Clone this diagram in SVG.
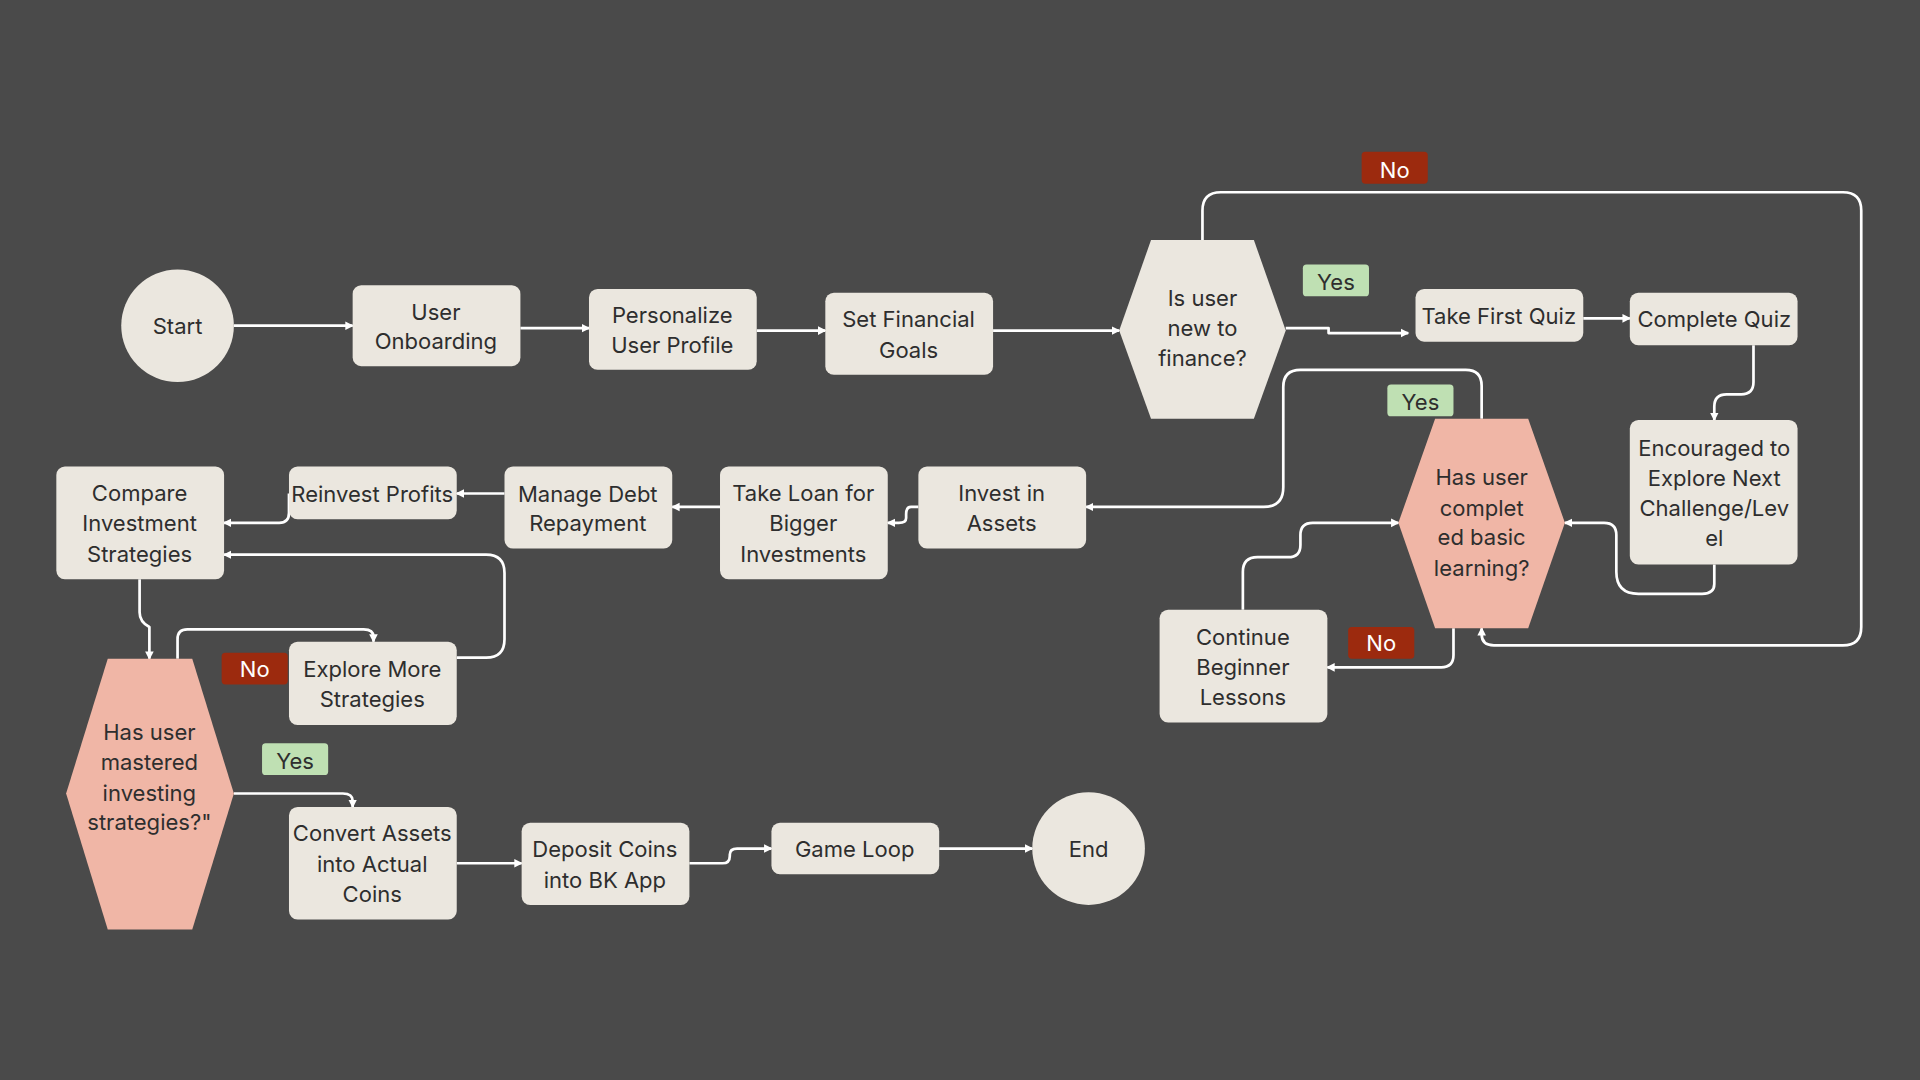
<svg xmlns="http://www.w3.org/2000/svg" width="1920" height="1080" viewBox="0 0 1920 1080">
<defs>
<marker id="ah" markerWidth="8" markerHeight="8" refX="6" refY="4" orient="auto" markerUnits="userSpaceOnUse"><path d="M0,0.5 L7,4 L0,7.5 Z" fill="#fff"/></marker>
<style>
.n{fill:#ebe7df}
.p{fill:#f0b6a6}
text{font-family:"Inter","Noto Sans",sans-serif;font-size:18px;fill:#2e2e2e;text-anchor:middle}
.c path{fill:none;stroke:#fff;stroke-width:2.2;stroke-linejoin:round;marker-end:url(#ah)}
.no{fill:#9c2a0e}.yes{fill:#bfe0b3}
.nt{fill:#fff}
</style>
</defs>
<rect width="1920" height="1080" fill="#4a4a4a"/>
<g transform="scale(1.2245)">
<g class="c">
<path d="M191 266H288"/>
<path d="M425 268H481"/>
<path d="M618 270H674"/>
<path d="M811 270H914"/>
<path d="M1050 268H1085V272H1150"/>
<path d="M1293 260H1331"/>
<path d="M1432 282V312Q1432 322 1422 322H1410Q1400 322 1400 332V343"/>
<path d="M1400 461V477Q1400 485 1390 485H1338Q1320 485 1320 467V437Q1320 427 1310 427H1278"/>
<path d="M982 196V172Q982 157 997 157H1505Q1520 157 1520 172V512Q1520 527 1505 527H1220Q1210 527 1210 518V513"/>
<path d="M1210 342V315Q1210 302 1197 302H1062Q1048 302 1048 316V398Q1048 414 1032 414H887"/>
<path d="M1187 513V535Q1187 545 1177 545H1084"/>
<path d="M1015 498V467Q1015 455 1027 455H1052Q1062 455 1062 445V437Q1062 427 1072 427H1142"/>
<path d="M750 414H744Q740 414 740 420V423Q740 427 734 427H725"/>
<path d="M588 414H549"/>
<path d="M412 403H373"/>
<path d="M236 403V419Q236 427 228 427H183"/>
<path d="M114 473V500Q114 508 122 512V538"/>
<path d="M145 538V522Q145 514 153 514H297Q305 514 305 520V524"/>
<path d="M373 537H397Q412 537 412 522V468Q412 453 397 453H183"/>
<path d="M191 648H280Q288 648 288 654V659"/>
<path d="M373 705H426"/>
<path d="M563 705H590Q596 705 596 699V698Q596 693 602 693H630"/>
<path d="M767 693H843"/>
</g>
<g id="start"><circle class="n" cx="145" cy="266" r="46"/><text x="145" y="273">Start</text></g>
<g id="onboard"><rect class="n" x="288" y="233" width="137" height="66" rx="7"/><text x="356" y="261">User</text><text x="356" y="285">Onboarding</text></g>
<g id="profile"><rect class="n" x="481" y="236" width="137" height="66" rx="7"/><text x="549" y="264">Personalize</text><text x="549" y="288">User Profile</text></g>
<g id="goals"><rect class="n" x="674" y="239" width="137" height="67" rx="7"/><text x="742" y="267">Set Financial</text><text x="742" y="292">Goals</text></g>
<g id="newfin"><polygon class="n" points="914,270 940,196 1024,196 1050,270 1024,342 940,342"/><text x="982" y="250">Is user</text><text x="982" y="274">new to</text><text x="982" y="299">finance?</text></g>
<g id="quiz1"><rect class="n" x="1156" y="236" width="137" height="43" rx="7"/><text x="1224" y="265">Take First Quiz</text></g>
<g id="quiz2"><rect class="n" x="1331" y="239" width="137" height="43" rx="7"/><text x="1400" y="267">Complete Quiz</text></g>
<g id="encour"><rect class="n" x="1331" y="343" width="137" height="118" rx="7"/><text x="1400" y="372">Encouraged to</text><text x="1400" y="397">Explore Next</text><text x="1400" y="421">Challenge/Lev</text><text x="1400" y="446">el</text></g>
<g id="basic"><polygon class="p" points="1142,427 1172,342 1248,342 1278,427 1248,513 1172,513"/><text x="1210" y="396">Has user</text><text x="1210" y="421">complet</text><text x="1210" y="445">ed basic</text><text x="1210" y="470">learning?</text></g>
<g id="begin"><rect class="n" x="947" y="498" width="137" height="92" rx="7"/><text x="1015" y="527">Continue</text><text x="1015" y="551">Beginner</text><text x="1015" y="576">Lessons</text></g>
<g id="invest"><rect class="n" x="750" y="381" width="137" height="67" rx="7"/><text x="818" y="409">Invest in</text><text x="818" y="434">Assets</text></g>
<g id="loan"><rect class="n" x="588" y="381" width="137" height="92" rx="7"/><text x="656" y="409">Take Loan for</text><text x="656" y="434">Bigger</text><text x="656" y="459">Investments</text></g>
<g id="debt"><rect class="n" x="412" y="381" width="137" height="67" rx="7"/><text x="480" y="410">Manage Debt</text><text x="480" y="434">Repayment</text></g>
<g id="reinvest"><rect class="n" x="236" y="381" width="137" height="43" rx="7"/><text x="304" y="410">Reinvest Profits</text></g>
<g id="compare"><rect class="n" x="46" y="381" width="137" height="92" rx="7"/><text x="114" y="409">Compare</text><text x="114" y="434">Investment</text><text x="114" y="459">Strategies</text></g>
<g id="explore"><rect class="n" x="236" y="524" width="137" height="68" rx="7"/><text x="304" y="553">Explore More</text><text x="304" y="577">Strategies</text></g>
<g id="mastered"><polygon class="p" points="54,648 88,538 157,538 191,648 157,759 88,759"/><text x="122" y="604">Has user</text><text x="122" y="629">mastered</text><text x="122" y="654">investing</text><text x="122" y="678">strategies?"</text></g>
<g id="convert"><rect class="n" x="236" y="659" width="137" height="92" rx="7"/><text x="304" y="687">Convert Assets</text><text x="304" y="712">into Actual</text><text x="304" y="737">Coins</text></g>
<g id="deposit"><rect class="n" x="426" y="672" width="137" height="67" rx="7"/><text x="494" y="700">Deposit Coins</text><text x="494" y="725">into BK App</text></g>
<g id="gameloop"><rect class="n" x="630" y="672" width="137" height="42" rx="7"/><text x="698" y="700">Game Loop</text></g>
<g id="end"><circle class="n" cx="889" cy="693" r="46"/><text x="889" y="700">End</text></g>
<g id="labels">
<rect class="no" x="1112" y="124" width="54" height="26" rx="3"/><text class="nt" x="1139" y="145">No</text>
<rect class="yes" x="1064" y="216" width="54" height="26" rx="3"/><text x="1091" y="237">Yes</text>
<rect class="yes" x="1133" y="314" width="54" height="26" rx="3"/><text x="1160" y="335">Yes</text>
<rect class="no" x="1101" y="512" width="54" height="26" rx="3"/><text class="nt" x="1128" y="532">No</text>
<rect class="no" x="181" y="533" width="54" height="26" rx="3"/><text class="nt" x="208" y="553">No</text>
<rect class="yes" x="214" y="607" width="54" height="26" rx="3"/><text x="241" y="628">Yes</text>
</g>
</g>
</svg>
